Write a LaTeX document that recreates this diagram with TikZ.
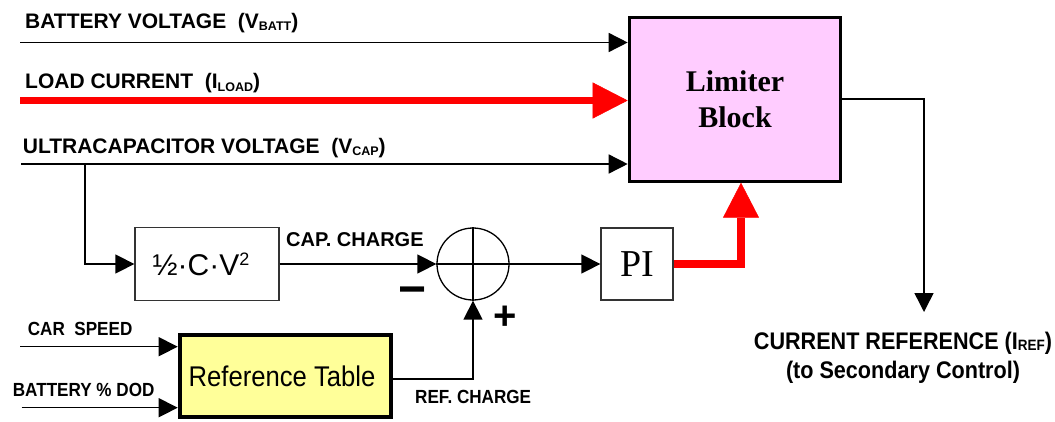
\documentclass[tikz,border=0pt]{standalone}
\usepackage{fontspec}
\setmainfont{Liberation Sans}
\newfontfamily\narrowfont[FakeStretch=0.9]{Liberation Sans}
\newfontfamily\seriffont{Liberation Serif}
\usetikzlibrary{arrows.meta}
\definecolor{limpink}{HTML}{FFCCFF}
\definecolor{refyellow}{HTML}{FFFF99}
\newcommand{\subtxt}[3]{\raisebox{-#2}{\fontsize{#1}{#1}\selectfont #3}}
\begin{document}
\begin{tikzpicture}[x=1pt,y=-1pt,
  lbl/.style={anchor=base west, inner sep=0, font=\bfseries\fontsize{21}{24}\selectfont},
  nlbl/.style={anchor=base west, inner sep=0, font=\narrowfont\bfseries\fontsize{19}{22}\selectfont},
  crlbl/.style={anchor=base, inner sep=0, font=\narrowfont\bfseries\fontsize{24}{29}\selectfont},
  thinbox/.style={draw=black!80, line width=1.3pt, inner sep=0},
  thickbox/.style={draw=black, inner sep=0},
  arr/.style={line width=1.5pt, -{Triangle[length=19pt,width=19pt]}},
  redarr/.style={draw=red, line width=7.5pt, line join=miter, -{Triangle[length=35pt,width=36pt,line width=0.5pt]}},
]
\useasboundingbox (0,0) rectangle (1055,421);

% blocks
\node[thickbox, line width=3pt, fill=limpink, minimum width=211.6pt, minimum height=164pt,
      align=center, font=\seriffont\bfseries\fontsize{30}{36.7}\selectfont] (lim) at (735,99.2) {Limiter\\Block};
\node[thinbox, minimum width=144pt, minimum height=73pt, font=\fontsize{30}{34}\selectfont] (half) at (207,264)
  {½·C·V\raisebox{10pt}{\fontsize{18}{18}\selectfont 2}\kern12pt};
\node[draw, circle, line width=1.3pt, minimum size=72pt, inner sep=0] (sum) at (473,264) {};
\node[thinbox, minimum width=72pt, minimum height=72pt, font=\seriffont\fontsize{38}{40}\selectfont] (pi) at (637,264) {PI};
\node[thickbox, line width=4pt, fill=refyellow, minimum width=211.6pt, minimum height=81.7pt,
      font=\narrowfont\fontsize{28.5}{32}\selectfont] (ref) at (285.5,376.2) {Reference Table\kern7pt};

% labels
\node[lbl] (lbv) at (25,28.3) {BATTERY VOLTAGE~~(V\subtxt{12.5}{2.5pt}{BATT})};
\node[lbl] (llc) at (25,88.3) {LOAD CURRENT~~(I\subtxt{12.5}{2.7pt}{LOAD})};
\node[lbl] (luc) at (22.7,153.3) {ULTRACAPACITOR VOLTAGE~~(V\subtxt{12.5}{2pt}{CAP})};
\node[lbl, font=\bfseries\fontsize{20}{24}\selectfont] (lcc) at (286,246.7) {CAP. CHARGE};
\node[nlbl] (lcs) at (27.7,335) {CAR~~SPEED};
\node[nlbl] (lbd) at (12.7,396.7) {BATTERY \% DOD};
\node[nlbl] (lrc) at (415,403.3) {REF. CHARGE};
\node[crlbl] (cr1) at (903,349) {CURRENT REFERENCE (I\subtxt{15}{1pt}{REF})};
\node[crlbl] (cr2) at (903,378) {(to Secondary Control)};
\node[inner sep=0, font=\bfseries\fontsize{48}{48}\selectfont] (minus) at (412.5,296) {−};
\node[inner sep=0, font=\bfseries\fontsize{40}{40}\selectfont] (plus) at (505.5,318) {+};

% free ends
\coordinate (bv) at (20,42.5);
\coordinate (lc) at (20,100.5);
\coordinate (uc) at (21,164);
\coordinate (br) at (85,164);
\coordinate (cs) at (20,346.7);
\coordinate (bd) at (21.7,407.7);
\coordinate (out) at (924,312);

% connectors
\draw[arr] (bv) -- (bv -| lim.west);
\draw[redarr] (lc) -- (lc -| lim.west);
\draw[arr] (uc) -- (uc -| lim.west);
\draw[arr] (br) |- (half.west);
\draw[arr] (half.east) -- (sum.west);
\draw[arr] (sum.east) -- (pi.west);
\draw[redarr] (pi.east) -| ([xshift=6pt]lim.south);
\draw[arr] ([yshift=-3pt]ref.east) -| (sum.south);
\draw[arr] (cs) -- (cs -| ref.west);
\draw[arr] (bd) -- (bd -| ref.west);
\draw[arr] (lim.east) -| (out);
\draw[line width=1.3pt] (sum.north) -- (sum.south) (sum.west) -- (sum.east);
\end{tikzpicture}
\end{document}
